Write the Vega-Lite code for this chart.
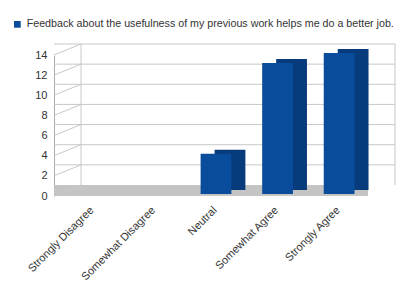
{
  "$schema": "https://vega.github.io/schema/vega-lite/v6.json",
  "width": 314,
  "height": 141,
  "autosize": "none",
  "padding": {"left": 54, "top": 55, "right": 52, "bottom": 94},
  "background": "white",
  "config": {
    "view": {"stroke": null},
    "font": "Liberation Sans",
    "axis": {"labelOverlap": false},
    "axisY": {"tickCount": 8, "grid": false, "ticks": false, "labelOverlap": false, "labelFlush": false,
              "labelFontSize": 11, "labelColor": "#333333", "labelPadding": 7, "domainColor": "#aaaaaa"}
  },
  "datasets": {
    "answers": [
      {"response": "Strongly Disagree", "count": 0, "series": "Feedback about the usefulness of my previous work helps me do a better job."},
      {"response": "Somewhat Disagree", "count": 0, "series": "Feedback about the usefulness of my previous work helps me do a better job."},
      {"response": "Neutral", "count": 4, "series": "Feedback about the usefulness of my previous work helps me do a better job."},
      {"response": "Somewhat Agree", "count": 13, "series": "Feedback about the usefulness of my previous work helps me do a better job."},
      {"response": "Strongly Agree", "count": 14, "series": "Feedback about the usefulness of my previous work helps me do a better job."}
    ],
    "grid": [{"v": 0, "cat": "Strongly Disagree"}, {"v": 2, "cat": "Strongly Disagree"}, {"v": 4, "cat": "Strongly Disagree"}, {"v": 6, "cat": "Strongly Disagree"}, {"v": 8, "cat": "Strongly Disagree"}, {"v": 10, "cat": "Strongly Disagree"}, {"v": 12, "cat": "Strongly Disagree"}, {"v": 14, "cat": "Strongly Disagree"}],
    "floor": [{"v": 0}],
    "wall": [{"lo": 0, "hi": 14, "cat": "Strongly Disagree", "pos": -0.6}, {"lo": 0, "hi": 14, "cat": "Strongly Agree", "pos": 1.6}]
  },
  "layer": [
    {
      "data": {"name": "floor"},
      "mark": {"type": "rect", "color": "#c4c4c4", "y2Offset": -11, "x2Offset": 27},
      "encoding": {
        "y": {"field": "v", "type": "quantitative", "scale": {"domain": [0, 14]},
              "axis": {"title": null, "values": [0, 2, 4, 6, 8, 10, 12, 14]}},
        "y2": {"field": "v"}
      }
    },
    {
      "data": {"name": "grid"},
      "transform": [{"filter": "datum.v > 0"}],
      "mark": {"type": "rule", "color": "#c8c8c8", "strokeWidth": 1, "xOffset": 27, "x2Offset": 27, "yOffset": -11, "y2Offset": -11},
      "encoding": {
        "y": {"field": "v", "type": "quantitative", "axis": {"title": null, "values": [0, 2, 4, 6, 8, 10, 12, 14]}}
      }
    },
    {
      "data": {"name": "grid"},
      "mark": {"type": "rule", "color": "#c8c8c8", "strokeWidth": 1, "x2Offset": -6.9, "y2Offset": -11},
      "encoding": {
        "x": {"field": "cat", "type": "nominal", "bandPosition": -0.6},
        "x2": {"field": "cat"},
        "y": {"field": "v", "type": "quantitative", "axis": {"title": null, "values": [0, 2, 4, 6, 8, 10, 12, 14]}},
        "y2": {"field": "v"}
      }
    },
    {
      "data": {"name": "wall"},
      "transform": [{"filter": "datum.pos < 0"}],
      "mark": {"type": "rule", "color": "#c8c8c8", "strokeWidth": 1, "xOffset": 27, "yOffset": -11, "y2Offset": -11},
      "encoding": {
        "x": {"field": "cat", "type": "nominal", "bandPosition": -0.6},
        "y": {"field": "lo", "type": "quantitative", "axis": {"title": null, "values": [0, 2, 4, 6, 8, 10, 12, 14]}},
        "y2": {"field": "hi"}
      }
    },
    {
      "data": {"name": "wall"},
      "transform": [{"filter": "datum.pos > 0"}],
      "mark": {"type": "rule", "color": "#c8c8c8", "strokeWidth": 1, "xOffset": 27, "yOffset": -11, "y2Offset": -11},
      "encoding": {
        "x": {"field": "cat", "type": "nominal", "bandPosition": 1.6},
        "y": {"field": "lo", "type": "quantitative", "axis": {"title": null, "values": [0, 2, 4, 6, 8, 10, 12, 14]}},
        "y2": {"field": "hi"}
      }
    },
    {
      "data": {"name": "answers"},
      "mark": {"type": "bar", "color": "#073b7b", "xOffset": 19, "x2Offset": 19, "yOffset": -6, "y2Offset": -6},
      "encoding": {
        "x": {"field": "response", "type": "nominal",
              "scale": {"domain": ["Strongly Disagree", "Somewhat Disagree", "Neutral", "Somewhat Agree", "Strongly Agree"],
                        "paddingInner": 0.5, "paddingOuter": 0.3},
              "axis": {"title": null, "labelAngle": -45, "labelAlign": "right", "labelBaseline": "top",
                       "labelFontSize": 11, "labelColor": "#333333", "ticks": false, "domain": false, "labelPadding": 8}},
        "y": {"field": "count", "type": "quantitative", "axis": {"title": null, "values": [0, 2, 4, 6, 8, 10, 12, 14]}}
      }
    },
    {
      "data": {"name": "answers"},
      "mark": {"type": "bar", "xOffset": 5, "x2Offset": 5, "yOffset": -2, "y2Offset": -2},
      "encoding": {
        "x": {"field": "response", "type": "nominal"},
        "y": {"field": "count", "type": "quantitative", "axis": {"title": null, "values": [0, 2, 4, 6, 8, 10, 12, 14]}},
        "color": {"field": "series", "type": "nominal", "scale": {"range": ["#0a4c9c"]},
                  "legend": {"title": null, "orient": "none", "legendX": -42, "legendY": -36,
                             "symbolType": "square", "symbolSize": 45, "labelFontSize": 10.7,
                             "labelColor": "#333333", "labelLimit": 0}}
      }
    }
  ]
}
